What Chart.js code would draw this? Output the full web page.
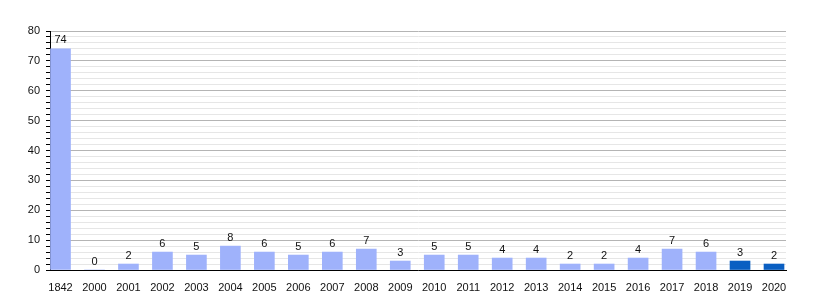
<!DOCTYPE html>
<html>
<head>
<meta charset="utf-8">
<script src="https://cdn.jsdelivr.net/npm/chart.js@4"></script>
<style>
body { margin: 0; background: #fff; }
</style>
</head>
<body>
<canvas id="chart" width="815" height="300"></canvas>
<script>
var years = ['1842', '2000', '2001', '2002', '2003', '2004', '2005', '2006', '2007', '2008', '2009', '2010', '2011', '2012', '2013', '2014', '2015', '2016', '2017', '2018', '2019', '2020'];
var counts = [74, 0, 2, 6, 5, 8, 6, 5, 6, 7, 3, 5, 5, 4, 4, 2, 2, 4, 7, 6, 3, 2];
var recent = ['2019', '2020'];

var lightBar = '#9fb2fb';
var darkBar = '#0a5fc2';

// values printed above each bar
var valueLabels = {
    id: 'valueLabels',
    afterDatasetsDraw: function(chart) {
        var ctx = chart.ctx;
        var meta = chart.getDatasetMeta(0);
        ctx.save();
        ctx.font = '11px "Liberation Sans", Arial, sans-serif';
        ctx.fillStyle = '#111';
        ctx.textAlign = 'center';
        ctx.textBaseline = 'bottom';
        meta.data.forEach(function(bar, i) {
            ctx.fillText(counts[i], bar.x, bar.y - 3);
        });
        ctx.restore();
    }
};

var chart = new Chart(document.getElementById('chart'), {
    type: 'bar',
    data: {
        datasets: [{
            data: counts.map(function(v, i) { return {x: i, y: v}; }),
            backgroundColor: years.map(function(y) { return recent.indexOf(y) >= 0 ? darkBar : lightBar; }),
            barThickness: 20,
        }]
    },
    options: {
        responsive: false,
        animation: false,
        layout: {padding: {top: 31, right: 29, left: 0, bottom: 0}},
        plugins: {legend: {display: false}, tooltip: {enabled: false}},
        scales: {
            x: {
                type: 'linear',
                offset: false,
                min: -0.309,
                max: 21.353,
                afterBuildTicks: function(scale) {
                    scale.ticks = years.map(function(y, i) { return {value: i}; });
                },
                afterFit: function(scale) { scale.height = 30; },
                grid: {display: false, offset: false},
                border: {display: true, color: '#000', width: 1},
                ticks: {
                    autoSkip: false,
                    maxRotation: 0,
                    padding: 3,
                    color: '#111',
                    font: {family: '"Liberation Sans", Arial, sans-serif', size: 11},
                    callback: function(v) { return years[v]; }
                }
            },
            y: {
                min: 0,
                max: 80,
                afterFit: function(scale) { scale.width = 50; },
                border: {display: true, color: '#000', width: 1},
                grid: {
                    color: function(c) { return c.tick.value % 10 === 0 ? '#b4b4b4' : '#e6e6e6'; },
                    tickColor: '#000',
                    tickLength: 4,
                    drawTicks: true
                },
                ticks: {
                    stepSize: 2,
                    maxTicksLimit: 100,
                    autoSkip: false,
                    padding: 6,
                    color: '#111',
                    font: {family: '"Liberation Sans", Arial, sans-serif', size: 11},
                    callback: function(v) { return v % 10 === 0 ? v : ''; }
                }
            }
        }
    },
    plugins: [valueLabels]
});
</script>
</body>
</html>
